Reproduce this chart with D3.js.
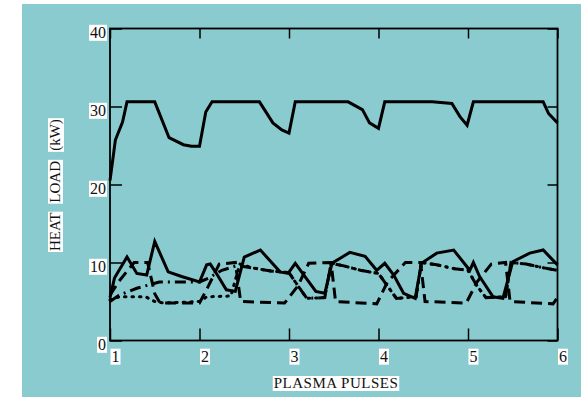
<html>
<head>
<script src="https://d3js.org/d3.v7.min.js"></script>
<style>
  body { margin: 0; background: #fff; }
  text { font-family: "Liberation Serif", "DejaVu Serif", serif; fill: #111; }
</style>
</head>
<body>
<div id="chart"></div>
<script>
// ---- data ----
var xTicks = [1, 2, 3, 4, 5, 6];
var yTicks = [0, 10, 20, 30, 40];

// top solid curve
var topX = [1.0, 1.06, 1.14, 1.19, 1.50, 1.66, 1.82, 1.91, 2.0, 2.07, 2.14, 2.67, 2.82, 2.92, 3.0, 3.07, 3.66, 3.82, 3.9, 4.0, 4.07, 4.6, 4.82, 4.91, 4.99, 5.06, 5.84, 5.9, 6.0];
var topY = [20.5, 25.7, 28.0, 30.6, 30.6, 26.0, 25.1, 24.9, 24.9, 29.3, 30.6, 30.6, 27.9, 27.0, 26.6, 30.6, 30.6, 29.6, 27.9, 27.2, 30.6, 30.6, 30.4, 28.7, 27.6, 30.6, 30.6, 29.1, 27.9];

// lower solid curve
var solidX = [1.0, 1.05, 1.19, 1.30, 1.41, 1.50, 1.65, 1.80, 2.0, 2.08, 2.12, 2.2, 2.3, 2.4, 2.5, 2.68, 2.9, 2.99, 3.07, 3.3, 3.4, 3.48, 3.68, 3.85, 3.98, 4.07, 4.17, 4.28, 4.41, 4.48, 4.65, 4.84, 5.02, 5.06, 5.13, 5.28, 5.39, 5.5, 5.69, 5.84, 6.0];
var solidY = [5.5, 8.0, 10.7, 8.6, 8.4, 12.7, 8.8, 8.2, 7.5, 9.7, 9.8, 8.4, 6.5, 6.3, 10.7, 11.6, 8.8, 8.6, 9.9, 6.3, 6.05, 9.9, 11.3, 10.8, 9.0, 9.9, 8.4, 6.05, 5.4, 9.9, 11.2, 11.6, 9.0, 10.0, 8.2, 5.6, 5.4, 10.1, 11.2, 11.6, 9.7];

// dashed curve
var dashX = [1.0, 1.1, 1.27, 1.42, 1.5, 1.56, 2.0, 2.1, 2.22, 2.4, 2.46, 2.95, 3.1, 3.22, 3.47, 3.52, 3.98, 4.1, 4.3, 4.47, 4.52, 4.98, 5.1, 5.26, 5.42, 5.47, 5.95, 6.0];
var dashY = [5.8, 7.6, 10.0, 10.0, 6.0, 4.8, 4.8, 7.0, 9.8, 10.0, 5.0, 4.8, 7.0, 9.9, 10.0, 5.0, 4.7, 7.5, 10.0, 10.0, 5.0, 4.8, 7.5, 9.8, 10.0, 5.0, 4.7, 5.5];

// dash-dot curve
var dashDotX = [1.0, 1.1, 1.3, 1.55, 2.0, 2.1, 2.25, 2.42, 2.6, 2.8, 3.0, 3.1, 3.2, 3.4, 3.47, 3.6, 3.8, 4.0, 4.1, 4.2, 4.42, 4.48, 4.65, 4.85, 5.0, 5.1, 5.2, 5.42, 5.48, 5.65, 5.85, 6.0];
var dashDotY = [5.0, 5.8, 6.7, 7.5, 7.5, 8.0, 9.0, 9.6, 9.3, 8.9, 8.7, 7.0, 5.4, 5.5, 9.9, 9.6, 9.0, 8.6, 7.0, 5.4, 5.6, 10.0, 9.7, 9.2, 9.0, 7.0, 5.5, 5.6, 10.0, 9.8, 9.3, 9.0];

// dotted curve
var dotX = [1.0, 1.1, 1.4, 1.5, 1.6, 2.0, 2.08, 2.35, 2.45, 2.6, 2.8, 3.0, 3.1, 3.2, 3.4, 3.47, 3.6, 3.8, 4.0, 4.1, 4.2, 4.42, 4.48, 4.65, 4.85, 5.0, 5.1, 5.2, 5.42, 5.48, 5.65, 5.85, 6.0];
var dotY = [5.2, 5.6, 5.6, 5.0, 4.8, 5.0, 5.6, 5.7, 9.8, 9.3, 8.9, 8.7, 7.0, 5.4, 5.5, 9.9, 9.6, 9.0, 8.6, 7.0, 5.4, 5.6, 10.0, 9.7, 9.2, 9.0, 7.0, 5.5, 5.6, 10.0, 9.8, 9.3, 9.0];

var W = 581, H = 397;
var margin = { top: 28.5, left: 110, right: 23.5, bottom: 56.5 };

var svg = d3.select('#chart').append('svg')
  .attr('width', W)
  .attr('height', H);

// teal panel
svg.append('rect')
  .attr('x', 22).attr('y', 4)
  .attr('width', W - 22).attr('height', H - 4)
  .style('fill', '#8acbd0');

var xScale = d3.scaleLinear().domain([1, 6]).range([margin.left, W - margin.right]);
var yScale = d3.scaleLinear().domain([0, 40]).range([H - margin.bottom, margin.top]);

// frame
svg.append('rect')
  .attr('x', xScale(1)).attr('y', yScale(40))
  .attr('width', xScale(6) - xScale(1))
  .attr('height', yScale(0) - yScale(40))
  .style('fill', 'none')
  .style('stroke', '#000')
  .style('stroke-width', 1.8);

function styleAxis(g) {
  g.select('.domain').remove();
  g.selectAll('line').style('stroke', '#000').style('stroke-width', 1.5);
}

// left axis (ticks inward)
var yAxisG = svg.append('g')
  .attr('transform', 'translate(' + xScale(1) + ',0)')
  .call(d3.axisLeft(yScale).tickValues(yTicks).tickFormat(d3.format('d'))
    .tickSizeInner(-12).tickSizeOuter(0).tickPadding(16));
styleAxis(yAxisG);
yAxisG.selectAll('text')
  .style('font-size', '16px')
  .attr('dy', '0.55em')
  .attr('x', -4);

// right axis ticks
var rAxisG = svg.append('g')
  .attr('transform', 'translate(' + xScale(6) + ',0)')
  .call(d3.axisRight(yScale).tickValues(yTicks).tickSizeInner(-10).tickSizeOuter(0).tickFormat(''));
styleAxis(rAxisG);

// bottom axis
var xAxisG = svg.append('g')
  .attr('transform', 'translate(0,' + yScale(0) + ')')
  .call(d3.axisBottom(xScale).tickValues(xTicks).tickFormat(d3.format('d'))
    .tickSizeInner(-12).tickSizeOuter(0));
styleAxis(xAxisG);
xAxisG.selectAll('text')
  .style('font-size', '16px')
  .attr('text-anchor', 'start')
  .attr('x', 1)
  .attr('y', 6)
  .attr('dy', '0.95em');

// top axis ticks
var tAxisG = svg.append('g')
  .attr('transform', 'translate(0,' + yScale(40) + ')')
  .call(d3.axisTop(xScale).tickValues(xTicks).tickSizeInner(-10).tickSizeOuter(0).tickFormat(''));
styleAxis(tAxisG);

// white boxes behind tick labels
function boxText(sel) {
  sel.each(function() {
    var b = this.getBBox();
    d3.select(this.parentNode).insert('rect', 'text')
      .attr('x', b.x - 1).attr('y', b.y + 1)
      .attr('width', b.width + 2).attr('height', b.height - 1)
      .style('fill', '#fff');
  });
}
boxText(yAxisG.selectAll('text'));
boxText(xAxisG.selectAll('text'));

// series
var line = d3.line()
  .x(function(d) { return xScale(d[0]); })
  .y(function(d) { return yScale(d[1]); });

function zip(xs, ys) { return xs.map(function(x, i) { return [x, ys[i]]; }); }

var series = [
  { data: zip(dotX, dotY), dash: '1.5,6', cap: 'round' },
  { data: zip(dashDotX, dashDotY), dash: '11,5,2,5', cap: 'butt' },
  { data: zip(dashX, dashY), dash: '11,6', cap: 'butt' },
  { data: zip(solidX, solidY), dash: null, cap: 'butt' },
  { data: zip(topX, topY), dash: null, cap: 'butt' }
];

svg.append('g').selectAll('path')
  .data(series)
  .enter().append('path')
    .attr('d', function(d) { return line(d.data); })
    .style('fill', 'none')
    .style('stroke', '#000')
    .style('stroke-width', 3)
    .style('stroke-linejoin', 'miter')
    .style('stroke-linecap', function(d) { return d.cap; })
    .style('stroke-dasharray', function(d) { return d.dash; });

// axis titles with white backgrounds per word
var yTitleWords = ['HEAT', 'LOAD', '(kW)'];
var yTitle = svg.append('g').attr('transform', 'translate(60,251) rotate(-90)');
var offset = 0;
yTitleWords.forEach(function(w) {
  var t = yTitle.append('text')
    .attr('x', offset).attr('y', 0)
    .style('font-size', '15px')
    .text(w);
  var b = t.node().getBBox();
  yTitle.insert('rect', 'text')
    .attr('x', b.x - 1).attr('y', b.y + 1)
    .attr('width', b.width + 2).attr('height', b.height - 1)
    .style('fill', '#fff');
  offset += b.width + 10;
});

var xTitle = svg.append('text')
  .attr('x', 336).attr('y', 388)
  .attr('text-anchor', 'middle')
  .style('font-size', '15px')
  .style('letter-spacing', '0.5px')
  .text('PLASMA PULSES');
var xb = xTitle.node().getBBox();
svg.insert('rect', function() { return xTitle.node(); })
  .attr('x', xb.x - 1).attr('y', xb.y + 1)
  .attr('width', xb.width + 2).attr('height', xb.height - 1)
  .style('fill', '#fff');
</script>
</body>
</html>
